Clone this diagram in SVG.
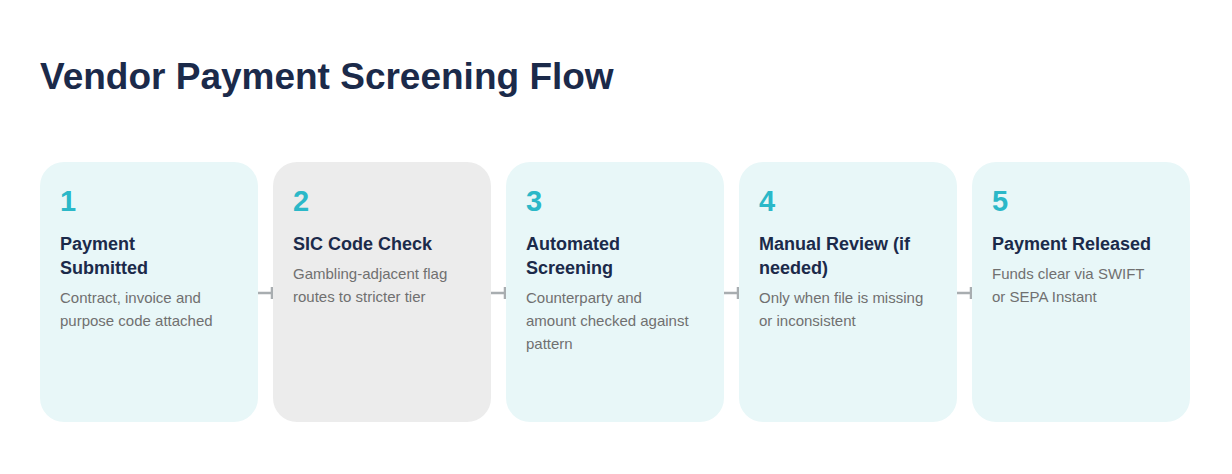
<svg xmlns="http://www.w3.org/2000/svg" width="1232" height="474" viewBox="0 0 1232 474">
<style>
.card{fill:#e8f7f8}.alt{fill:#ececec}
.num{font:bold 29px "Liberation Sans",Arial,sans-serif;fill:#2bb8c8}
.t{font:bold 18px "Liberation Sans",Arial,sans-serif;fill:#1b2a4a}
.d{font:15px "Liberation Sans",Arial,sans-serif;fill:#707070}
.c{stroke:#a8adb0;stroke-width:2.5;fill:none}
</style>
<rect width="1232" height="474" fill="#fff"/>
<text x="40" y="89" style="font:bold 37px 'Liberation Sans',Arial,sans-serif;fill:#1b2a4a">Vendor Payment Screening Flow</text>
<g id="connectors">
<path class="c" d="M258 293H272M272 287V299"/>
<path class="c" d="M491 293H505M505 287V299"/>
<path class="c" d="M724 293H738M738 287V299"/>
<path class="c" d="M957 293H971M971 287V299"/>
</g>
<g id="n1"><rect class="card" x="40" y="162" width="218" height="260" rx="24"/>
<text class="num" x="60" y="211">1</text>
<text class="t" x="60" y="250">Payment</text><text class="t" x="60" y="274">Submitted</text>
<text class="d" x="60" y="303">Contract, invoice and</text><text class="d" x="60" y="326">purpose code attached</text></g>
<g id="n2"><rect class="alt" x="273" y="162" width="218" height="260" rx="24"/>
<text class="num" x="293" y="211">2</text>
<text class="t" x="293" y="250">SIC Code Check</text>
<text class="d" x="293" y="279">Gambling-adjacent flag</text><text class="d" x="293" y="302">routes to stricter tier</text></g>
<g id="n3"><rect class="card" x="506" y="162" width="218" height="260" rx="24"/>
<text class="num" x="526" y="211">3</text>
<text class="t" x="526" y="250">Automated</text><text class="t" x="526" y="274">Screening</text>
<text class="d" x="526" y="303">Counterparty and</text><text class="d" x="526" y="326">amount checked against</text><text class="d" x="526" y="349">pattern</text></g>
<g id="n4"><rect class="card" x="739" y="162" width="218" height="260" rx="24"/>
<text class="num" x="759" y="211">4</text>
<text class="t" x="759" y="250">Manual Review (if</text><text class="t" x="759" y="274">needed)</text>
<text class="d" x="759" y="303">Only when file is missing</text><text class="d" x="759" y="326">or inconsistent</text></g>
<g id="n5"><rect class="card" x="972" y="162" width="218" height="260" rx="24"/>
<text class="num" x="992" y="211">5</text>
<text class="t" x="992" y="250">Payment Released</text>
<text class="d" x="992" y="279">Funds clear via SWIFT</text><text class="d" x="992" y="302">or SEPA Instant</text></g>
</svg>
